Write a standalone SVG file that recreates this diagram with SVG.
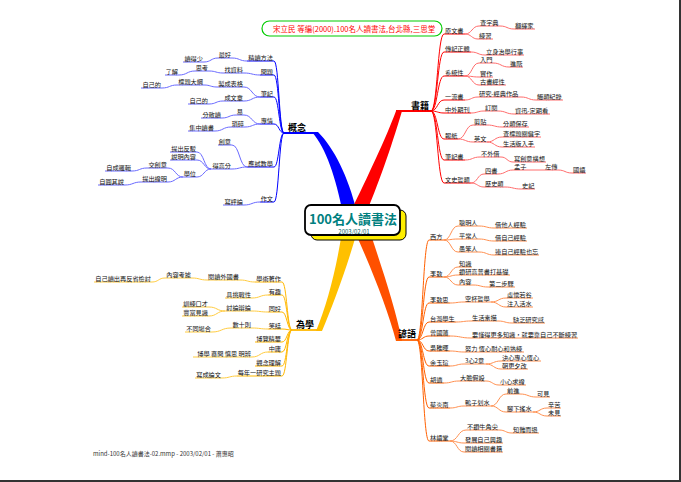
<svg xmlns="http://www.w3.org/2000/svg" width="681" height="482" viewBox="0 0 681 482">
<style>
.t{font-family:"Noto Sans CJK TC","Noto Sans CJK SC",sans-serif;font-size:6.2px;fill:#111}
.e{text-anchor:end}
.m{font-size:9px;font-weight:bold;fill:#000}
.c path{fill:none;stroke-width:1}
.b1{stroke:#0000ff}.b2{stroke:#6a6aff}
.r1{stroke:#ff0000}.r2{stroke:#ff6c6c}
.o1{stroke:#ff6000}.o2{stroke:#ff9050}
.y1{stroke:#ffb800}.y2{stroke:#ffcc40}
</style>
<rect width="681" height="482" fill="#fff"/>
<line x1="680" y1="0" x2="680" y2="482" stroke="#333" stroke-width="2"/>
<line x1="0" y1="481" x2="681" y2="481" stroke="#333" stroke-width="2"/>

<g id="arms">
<path d="M343 214C336 178 326 148 312 132L318 132C334 148 348 176 357 212Z" fill="#0000ff"/>
<path d="M284 133H318" stroke="#0000ff" stroke-width="1.8"/>
<path d="M350 213C368 176 386 138 396 111L402 111C394 138 381 178 366 213Z" fill="#ff0000"/>
<path d="M396 111H431" stroke="#ff0000" stroke-width="1.8"/>
<path d="M342 232C336 270 327 305 316 331L322 331C333 305 346 270 357 232Z" fill="#ffc000"/>
<path d="M292 330H320" stroke="#ffb800" stroke-width="1.8"/>
<path d="M355 232C372 270 388 310 396 341L402 341C396 310 382 268 370 232Z" fill="#ff5000"/>
<path d="M396 340H417" stroke="#ff6000" stroke-width="1.8"/>
</g>

<g id="connectors" class="c">
<!-- 書籍 -->
<path class="r1" d="M431 111C437.5 111 437.5 34 444 34H465"/>
<path class="r1" d="M431 111C437.5 111 437.5 52 444 52H471"/>
<path class="r1" d="M431 111C437.5 111 437.5 76 444 76H465"/>
<path class="r1" d="M431 111C437.5 111 437.5 100 444 100H465"/>
<path class="r1" d="M431 111C437.5 111 437.5 113 444 113H471"/>
<path class="r1" d="M431 111C437.5 111 437.5 139 444 139H458"/>
<path class="r1" d="M431 111C437.5 111 437.5 160 444 160H465"/>
<path class="r1" d="M431 111C437.5 111 437.5 183 444 183H471"/>
<path class="r2" d="M465 34C472 34 472 26 479 26H500"/>
<path class="r2" d="M500 26C507 26 507 29 514 29H535"/>
<path class="r2" d="M465 34C471.5 34 471.5 39 478 39H493"/>
<path class="r2" d="M471 52C478 52 478 55 485 55H524"/>
<path class="r2" d="M465 76C472 76 472 63 479 63H493"/>
<path class="r2" d="M493 63C501 63 501 67 509 67H523"/>
<path class="r2" d="M465 76C472 76 472 77 479 77H493"/>
<path class="r2" d="M465 76C472 76 472 85 479 85H506"/>
<path class="r2" d="M465 100C471.5 100 471.5 97 478 97H521"/>
<path class="r2" d="M521 97C528.5 97 528.5 100 536 100H563"/>
<path class="r2" d="M471 113C477.5 113 477.5 111 484 111H498"/>
<path class="r2" d="M498 111C506 111 506 114 514 114H550"/>
<path class="r2" d="M458 139C465.5 139 465.5 125 473 125H487"/>
<path class="r2" d="M487 125C494.5 125 494.5 127 502 127H529"/>
<path class="r2" d="M458 139C465.5 139 465.5 142 473 142H487"/>
<path class="r2" d="M487 142C494.5 142 494.5 137 502 137H541"/>
<path class="r2" d="M487 142C494.5 142 494.5 147 502 147H535"/>
<path class="r2" d="M465 160C472.5 160 472.5 157 480 157H501"/>
<path class="r2" d="M501 157C507 157 507 162 513 162H546"/>
<path class="r2" d="M471 183C477.5 183 477.5 174 484 174H498"/>
<path class="r2" d="M498 174C505.5 174 505.5 170 513 170H527"/>
<path class="r2" d="M527 170H558"/>
<path class="r2" d="M558 170C565 170 565 173 572 173H586"/>
<path class="r2" d="M471 183C477.5 183 477.5 187 484 187H505"/>
<path class="r2" d="M505 187C513 187 513 189 521 189H535"/>
<!-- 諺語 -->
<path class="o1" d="M417 340C423 340 423 240 429 240H444"/>
<path class="o1" d="M417 340C423 340 423 277 429 277H444"/>
<path class="o1" d="M417 340C423 340 423 303 429 303H450"/>
<path class="o1" d="M417 340C423 340 423 322 429 322H456"/>
<path class="o1" d="M417 340C423 340 423 336 429 336H450"/>
<path class="o1" d="M417 340C423 340 423 351 429 351H450"/>
<path class="o1" d="M417 340C423 340 423 366 429 366H450"/>
<path class="o1" d="M417 340C423 340 423 383 429 383H444"/>
<path class="o1" d="M417 340C423 340 423 408 429 408H450"/>
<path class="o1" d="M417 340C423 340 423 441 429 441H450"/>
<path class="o2" d="M444 240C451 240 451 226 458 226H479"/>
<path class="o2" d="M479 226C486.5 226 486.5 228 494 228H527"/>
<path class="o2" d="M444 240C451 240 451 239 458 239H479"/>
<path class="o2" d="M479 239C486.5 239 486.5 241 494 241H527"/>
<path class="o2" d="M444 240C451 240 451 252 458 252H479"/>
<path class="o2" d="M479 252C486.5 252 486.5 255 494 255H539"/>
<path class="o2" d="M444 277C451 277 451 267 458 267H472"/>
<path class="o2" d="M444 277C451 277 451 275 458 275H510"/>
<path class="o2" d="M444 277C451 277 451 285 458 285H473"/>
<path class="o2" d="M473 285C480.5 285 480.5 287 488 287H515"/>
<path class="o2" d="M450 303C457 303 457 302 464 302H491"/>
<path class="o2" d="M491 302C498.5 302 498.5 298 506 298H533"/>
<path class="o2" d="M491 302C498.5 302 498.5 307 506 307H533"/>
<path class="o2" d="M456 322C463.5 322 463.5 321 471 321H498"/>
<path class="o2" d="M498 321C505 321 505 323 512 323H545"/>
<path class="o2" d="M450 336C460.5 336 460.5 338 471 338H578"/>
<path class="o2" d="M450 351C457 351 457 352 464 352H524"/>
<path class="o2" d="M450 366C457 366 457 364 464 364H486"/>
<path class="o2" d="M486 364C493.5 364 493.5 361 501 361H541"/>
<path class="o2" d="M486 364C493.5 364 493.5 369 501 369H528"/>
<path class="o2" d="M444 383C451.5 383 451.5 381 459 381H486"/>
<path class="o2" d="M486 381C492.5 381 492.5 385 499 385H526"/>
<path class="o2" d="M450 408C457 408 457 406 464 406H491"/>
<path class="o2" d="M491 406C498.5 406 498.5 394 506 394H520"/>
<path class="o2" d="M520 394C528 394 528 397 536 397H550"/>
<path class="o2" d="M491 406C498.5 406 498.5 412 506 412H533"/>
<path class="o2" d="M533 412C540 412 540 408 547 408H561"/>
<path class="o2" d="M533 412C540 412 540 416 547 416H561"/>
<path class="o2" d="M450 441C458 441 458 430 466 430H499"/>
<path class="o2" d="M499 430C505.5 430 505.5 433 512 433H539"/>
<path class="o2" d="M450 441C457 441 457 443 464 443H503"/>
<path class="o2" d="M450 441C457 441 457 452 464 452H503"/>
<!-- 概念 -->
<path class="b1" d="M284 133C279 133 279 61 274 61H247"/>
<path class="b1" d="M284 133C279 133 279 75 274 75H260"/>
<path class="b1" d="M284 133C279 133 279 97 274 97H260"/>
<path class="b1" d="M284 133C279 133 279 124 274 124H260"/>
<path class="b1" d="M284 133C279 133 279 167 274 167H247"/>
<path class="b1" d="M284 133C279 133 279 202 274 202H260"/>
<path class="b2" d="M247 61C239.5 61 239.5 58 232 58H218"/>
<path class="b2" d="M218 58C211 58 211 62 204 62H183"/>
<path class="b2" d="M260 75C252 75 252 73 244 73H223"/>
<path class="b2" d="M223 73C216 73 216 71 209 71H195"/>
<path class="b2" d="M195 71C187 71 187 75 179 75H165"/>
<path class="b2" d="M260 97C252 97 252 87 244 87H217"/>
<path class="b2" d="M217 87C210.5 87 210.5 85 204 85H177"/>
<path class="b2" d="M177 85C169.5 85 169.5 88 162 88H141"/>
<path class="b2" d="M260 97C252 97 252 101 244 101H223"/>
<path class="b2" d="M223 101C216 101 216 104 209 104H188"/>
<path class="b2" d="M260 124C252 124 252 115 244 115H236"/>
<path class="b2" d="M236 115C229 115 229 118 222 118H201"/>
<path class="b2" d="M260 124C252.5 124 252.5 127 245 127H231"/>
<path class="b2" d="M231 127C223 127 223 131 215 131H188"/>
<path class="b2" d="M247 167C239.5 167 239.5 145 232 145H218"/>
<path class="b2" d="M247 167C239.5 167 239.5 169 232 169H211"/>
<path class="b2" d="M211 169C204 169 204 152 197 152H170"/>
<path class="b2" d="M211 169C204 169 204 160 197 160H170"/>
<path class="b2" d="M211 169C204 169 204 177 197 177H183"/>
<path class="b2" d="M183 177C175.5 177 175.5 168 168 168H147"/>
<path class="b2" d="M147 168C139.5 168 139.5 171 132 171H105"/>
<path class="b2" d="M183 177C175.5 177 175.5 182 168 182H141"/>
<path class="b2" d="M141 182C133 182 133 185 125 185H98"/>
<path class="b2" d="M260 202C252 202 252 205 244 205H223"/>
<!-- 為學 -->
<path class="y1" d="M292 330C287 330 287 282 282 282H255"/>
<path class="y1" d="M292 330C287 330 287 295 282 295H268"/>
<path class="y1" d="M292 330C287 330 287 312 282 312H268"/>
<path class="y1" d="M292 330C287 330 287 329 282 329H268"/>
<path class="y1" d="M292 330C287 330 287 342 282 342H255"/>
<path class="y1" d="M292 330C287 330 287 352 282 352H268"/>
<path class="y1" d="M292 330C287 330 287 366 282 366H255"/>
<path class="y1" d="M292 330C287 330 287 376 282 376H237"/>
<path class="y2" d="M255 282C247.5 282 247.5 280 240 280H207"/>
<path class="y2" d="M207 280C199.5 280 199.5 278 192 278H165"/>
<path class="y2" d="M165 278C158.5 278 158.5 282 152 282H94"/>
<path class="y2" d="M268 295C260 295 260 298 252 298H225"/>
<path class="y2" d="M268 312C260 312 260 311 252 311H225"/>
<path class="y2" d="M225 311C217 311 217 307 209 307H182"/>
<path class="y2" d="M225 311C217 311 217 316 209 316H182"/>
<path class="y2" d="M268 329C260 329 260 328 252 328H231"/>
<path class="y2" d="M231 328C221.5 328 221.5 332 212 332H185"/>
<path class="y2" d="M268 352C260 352 260 357 252 357H193"/>
<path class="y2" d="M237 376C229.5 376 229.5 378 222 378H195"/>
</g>

<g id="ref"><rect x="262" y="21" width="180" height="15" rx="7.5" fill="#fff" stroke="#00cc00" stroke-width="1.2"/>
<text x="273" y="31.5" class="t" style="font-size:7.5px;fill:#ff0000">宋立民 等編(2000).100名人讀書法,台北縣,三思堂</text></g>

<g id="center">
<rect x="311" y="210" width="95" height="30" rx="6" fill="#ffee00" stroke="#000" stroke-width="1"/>
<rect x="305" y="205" width="95" height="30" rx="6" fill="#fff" stroke="#000" stroke-width="1.8"/>
<text x="353" y="224" class="t" style="font-size:13px;font-weight:bold;fill:#008080;text-anchor:middle">100名人讀書法</text>
<text x="354" y="234" class="t" style="font-size:6px;fill:#006666;text-anchor:middle">2003/02/01</text>
</g>

<g id="n-shuji"><text x="411" y="109" class="t m">書籍</text></g>
<g id="n-r1"><text x="445" y="32.5" class="t">原文書</text></g>
<g id="n-r1a"><text x="480" y="24.5" class="t">查字典</text></g>
<g id="n-r1a1"><text x="515" y="27.5" class="t">翻譯家</text></g>
<g id="n-r1b"><text x="479" y="37.5" class="t">練習</text></g>
<g id="n-r2"><text x="445" y="50.5" class="t">傳記正體</text></g>
<g id="n-r2a"><text x="486" y="53.5" class="t">立身治學行事</text></g>
<g id="n-r3"><text x="445" y="74.5" class="t">系統性</text></g>
<g id="n-r3a"><text x="480" y="61.5" class="t">入門</text></g>
<g id="n-r3a1"><text x="510" y="65.5" class="t">進階</text></g>
<g id="n-r3b"><text x="480" y="75.5" class="t">實作</text></g>
<g id="n-r3c"><text x="480" y="83.5" class="t">古書經性</text></g>
<g id="n-r4"><text x="445" y="98.5" class="t">一流書</text></g>
<g id="n-r4a"><text x="479" y="95.5" class="t">研究-經典作品</text></g>
<g id="n-r4a1"><text x="537" y="98.5" class="t">觸類紀錄</text></g>
<g id="n-r5"><text x="445" y="111.5" class="t">中外期刊</text></g>
<g id="n-r5a"><text x="485" y="109.5" class="t">訂閱</text></g>
<g id="n-r5a1"><text x="515" y="112.5" class="t">資迅-定期看</text></g>
<g id="n-r6"><text x="445" y="137.5" class="t">報紙</text></g>
<g id="n-r6a"><text x="474" y="123.5" class="t">剪貼</text></g>
<g id="n-r6a1"><text x="503" y="125.5" class="t">分類保存</text></g>
<g id="n-r6b"><text x="474" y="140.5" class="t">英文</text></g>
<g id="n-r6b1"><text x="503" y="135.5" class="t">查標題關鍵字</text></g>
<g id="n-r6b2"><text x="503" y="145.5" class="t">生活版入手</text></g>
<g id="n-r7"><text x="445" y="158.5" class="t">筆記書</text></g>
<g id="n-r7a"><text x="481" y="155.5" class="t">不外借</text></g>
<g id="n-r7a1"><text x="514" y="160.5" class="t">寫創意構想</text></g>
<g id="n-r8"><text x="445" y="181.5" class="t">文史哲類</text></g>
<g id="n-r8a"><text x="485" y="172.5" class="t">四書</text></g>
<g id="n-r8a1"><text x="514" y="168.5" class="t">孟子</text></g>
<g id="n-r8a2"><text x="545" y="168.5" class="t">左傳</text></g>
<g id="n-r8a3"><text x="573" y="171.5" class="t">國語</text></g>
<g id="n-r8b"><text x="485" y="185.5" class="t">歷史類</text></g>
<g id="n-r8b1"><text x="522" y="187.5" class="t">史記</text></g>

<g id="n-yanyu"><text x="398" y="337" class="t m">諺語</text></g>
<g id="n-o1"><text x="430" y="238.5" class="t">西方</text></g>
<g id="n-o1a"><text x="459" y="224.5" class="t">聰明人</text></g>
<g id="n-o1a1"><text x="495" y="226.5" class="t">借他人經驗</text></g>
<g id="n-o1b"><text x="459" y="237.5" class="t">平常人</text></g>
<g id="n-o1b1"><text x="495" y="239.5" class="t">借自己經驗</text></g>
<g id="n-o1c"><text x="459" y="250.5" class="t">愚笨人</text></g>
<g id="n-o1c1"><text x="495" y="253.5" class="t">連自己經驗也忘</text></g>
<g id="n-o2"><text x="430" y="275.5" class="t">李敖</text></g>
<g id="n-o2a"><text x="459" y="265.5" class="t">知識</text></g>
<g id="n-o2b"><text x="459" y="273.5" class="t">鑽研高普書打基礎</text></g>
<g id="n-o2c"><text x="459" y="283.5" class="t">內容</text></g>
<g id="n-o2c1"><text x="489" y="285.5" class="t">第二步驟</text></g>
<g id="n-o3"><text x="430" y="301.5" class="t">李敖思</text></g>
<g id="n-o3a"><text x="465" y="300.5" class="t">空杯哲學</text></g>
<g id="n-o3a1"><text x="507" y="296.5" class="t">虛懷若谷</text></g>
<g id="n-o3a2"><text x="507" y="305.5" class="t">注入活水</text></g>
<g id="n-o4"><text x="430" y="320.5" class="t">台灣學生</text></g>
<g id="n-o4a"><text x="472" y="319.5" class="t">生活素描</text></g>
<g id="n-o4a1"><text x="513" y="321.5" class="t">缺乏研究感</text></g>
<g id="n-o5"><text x="430" y="334.5" class="t">曾國藩</text></g>
<g id="n-o5a"><text x="472" y="336.5" class="t">要懂得更多知識，就要靠自己不斷練習</text></g>
<g id="n-o6"><text x="430" y="349.5" class="t">吳稚暉</text></g>
<g id="n-o6a"><text x="465" y="350.5" class="t">努力 恆心耐心和熟練</text></g>
<g id="n-o7"><text x="430" y="364.5" class="t">余玉瑄</text></g>
<g id="n-o7a"><text x="465" y="362.5" class="t">3心2意</text></g>
<g id="n-o7a1"><text x="502" y="359.5" class="t">決心專心恆心</text></g>
<g id="n-o7a2"><text x="502" y="367.5" class="t">朝更夕改</text></g>
<g id="n-o8"><text x="430" y="381.5" class="t">胡適</text></g>
<g id="n-o8a"><text x="460" y="379.5" class="t">大膽假設</text></g>
<g id="n-o8a1"><text x="500" y="383.5" class="t">小心求證</text></g>
<g id="n-o9"><text x="430" y="406.5" class="t">蔡炎南</text></g>
<g id="n-o9a"><text x="465" y="404.5" class="t">鴨子划水</text></g>
<g id="n-o9a1"><text x="507" y="392.5" class="t">前進</text></g>
<g id="n-o9a1a"><text x="537" y="395.5" class="t">可見</text></g>
<g id="n-o9a2"><text x="507" y="410.5" class="t">腳下搖水</text></g>
<g id="n-o9a2a"><text x="548" y="406.5" class="t">辛苦</text></g>
<g id="n-o9a2b"><text x="548" y="414.5" class="t">未見</text></g>
<g id="n-o10"><text x="430" y="439.5" class="t">林語堂</text></g>
<g id="n-o10a"><text x="467" y="428.5" class="t">不鑽牛角尖</text></g>
<g id="n-o10a1"><text x="513" y="431.5" class="t">知難而退</text></g>
<g id="n-o10b"><text x="465" y="441.5" class="t">發展自己興趣</text></g>
<g id="n-o10c"><text x="465" y="450.5" class="t">閱讀相關書籍</text></g>

<g id="n-gainian"><text x="288" y="131" class="t m">概念</text></g>
<g id="n-b1"><text x="273" y="59.5" class="t e">精讀方法</text></g>
<g id="n-b1a"><text x="231" y="56.5" class="t e">最好</text></g>
<g id="n-b1a1"><text x="203" y="60.5" class="t e">讀得少</text></g>
<g id="n-b2"><text x="273" y="73.5" class="t e">問題</text></g>
<g id="n-b2a"><text x="243" y="71.5" class="t e">找資料</text></g>
<g id="n-b2a1"><text x="208" y="69.5" class="t e">思考</text></g>
<g id="n-b2a2"><text x="178" y="73.5" class="t e">了解</text></g>
<g id="n-b3"><text x="273" y="95.5" class="t e">筆記</text></g>
<g id="n-b3a"><text x="243" y="85.5" class="t e">製成表格</text></g>
<g id="n-b3a1"><text x="203" y="83.5" class="t e">標題大綱</text></g>
<g id="n-b3a2"><text x="161" y="86.5" class="t e">自己的</text></g>
<g id="n-b3b"><text x="243" y="99.5" class="t e">成文章</text></g>
<g id="n-b3b1"><text x="208" y="102.5" class="t e">自己的</text></g>
<g id="n-b4"><text x="273" y="122.5" class="t e">專情</text></g>
<g id="n-b4a"><text x="243" y="113.5" class="t e">易</text></g>
<g id="n-b4a1"><text x="221" y="116.5" class="t e">分散讀</text></g>
<g id="n-b4b"><text x="244" y="125.5" class="t e">瑣碎</text></g>
<g id="n-b4b1"><text x="214" y="129.5" class="t e">集中讀書</text></g>
<g id="n-b5"><text x="273" y="165.5" class="t e">應試教學</text></g>
<g id="n-b5a"><text x="231" y="143.5" class="t e">創意</text></g>
<g id="n-b5b"><text x="231" y="167.5" class="t e">得高分</text></g>
<g id="n-b5b1"><text x="196" y="150.5" class="t e">提出反駁</text></g>
<g id="n-b5b2"><text x="196" y="158.5" class="t e">說明內容</text></g>
<g id="n-b5b3"><text x="196" y="175.5" class="t e">學位</text></g>
<g id="n-b5b3a"><text x="167" y="166.5" class="t e">交創意</text></g>
<g id="n-b5b3a1"><text x="131" y="169.5" class="t e">自成邏輯</text></g>
<g id="n-b5b3b"><text x="167" y="180.5" class="t e">提出證明</text></g>
<g id="n-b5b3b1"><text x="124" y="183.5" class="t e">自圓其說</text></g>
<g id="n-b6"><text x="273" y="200.5" class="t e">作文</text></g>
<g id="n-b6a"><text x="243" y="203.5" class="t e">寫評論</text></g>

<g id="n-weixue"><text x="296" y="328" class="t m">為學</text></g>
<g id="n-y1"><text x="281" y="280.5" class="t e">學術著作</text></g>
<g id="n-y1a"><text x="239" y="278.5" class="t e">閱讀外國書</text></g>
<g id="n-y1a1"><text x="191" y="276.5" class="t e">內容考據</text></g>
<g id="n-y1a2"><text x="151" y="280.5" class="t e">自己讀出再反省檢討</text></g>
<g id="n-y2"><text x="281" y="293.5" class="t e">有趣</text></g>
<g id="n-y2a"><text x="251" y="296.5" class="t e">具挑戰性</text></g>
<g id="n-y3"><text x="281" y="310.5" class="t e">同好</text></g>
<g id="n-y3a"><text x="251" y="309.5" class="t e">討論辯論</text></g>
<g id="n-y3a1"><text x="208" y="305.5" class="t e">訓練口才</text></g>
<g id="n-y3a2"><text x="208" y="314.5" class="t e">豐富見識</text></g>
<g id="n-y4"><text x="281" y="327.5" class="t e">笑話</text></g>
<g id="n-y4a"><text x="251" y="326.5" class="t e">數十則</text></g>
<g id="n-y4a1"><text x="211" y="330.5" class="t e">不同場合</text></g>
<g id="n-y5"><text x="281" y="340.5" class="t e">博覽精華</text></g>
<g id="n-y6"><text x="281" y="350.5" class="t e">中庸</text></g>
<g id="n-y6a"><text x="251" y="355.5" class="t e">博學 審問 慎思 明辨</text></g>
<g id="n-y7"><text x="281" y="364.5" class="t e">觀念理解</text></g>
<g id="n-y8"><text x="281" y="374.5" class="t e">每年一研究主題</text></g>
<g id="n-y8a"><text x="221" y="376.5" class="t e">寫成論文</text></g>

<g id="footer"><text x="93" y="456" class="t" style="font-size:6px;fill:#333">mind-100名人讀書法-02.mmp - 2003/02/01 - 蕭惠昭</text></g>
</svg>
